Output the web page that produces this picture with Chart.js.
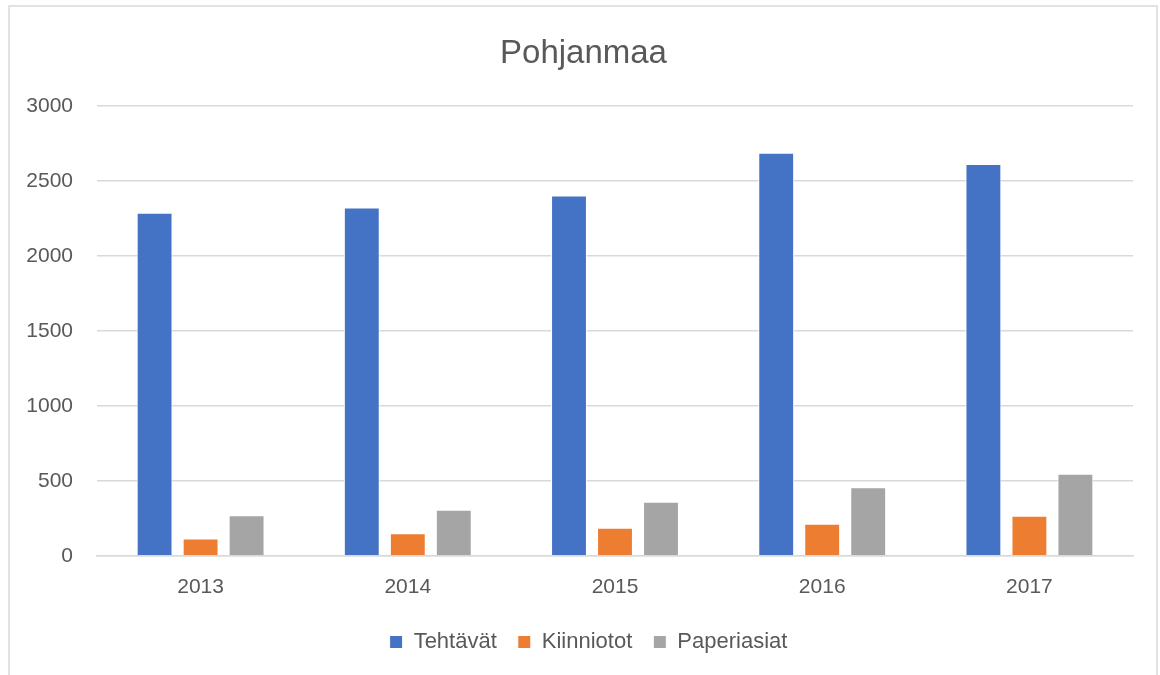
<!DOCTYPE html>
<html>
<head>
<meta charset="utf-8">
<script src="https://cdn.jsdelivr.net/npm/chart.js@4"></script>
<style>
  html, body { margin: 0; padding: 0; background: #fff; }
  #wrap { position: relative; width: 1160px; height: 675px; }
</style>
</head>
<body>
<div id="wrap"><canvas id="myChart" width="1160" height="675"></canvas></div>
<script>
// values
const years = ["2013", "2014", "2015", "2016", "2017"];
const tehtavat = [2289, 2324, 2404, 2689, 2613];
const kiinniotot = [116, 151, 187, 213, 267];
const paperiasiat = [271, 307, 360, 458, 547];
const yTicks = [0, 500, 1000, 1500, 2000, 2500, 3000];

const textColor = "#595959";
const gridColor = "#d9d9d9";
const fontName = "'Liberation Sans', Arial, sans-serif";

// light frame round the whole chart, like the Excel chart area
const framePlugin = {
    id: "frame",
    beforeDraw(chart) {
        const ctx = chart.ctx;
        ctx.save();
        ctx.fillStyle = "#fff";
        ctx.fillRect(0, 0, chart.width, chart.height);
        ctx.strokeStyle = gridColor;
        ctx.lineWidth = 1.5;
        ctx.strokeRect(9, 6, 1148, 700);
        ctx.restore();
    },
    // pull the legend a bit closer to the axis labels, centre title and legend on the frame
    afterLayout(chart) {
        if (chart.legend) {
            chart.legend.top -= 9;
            chart.legend.bottom -= 9;
            chart.legend.left += 12;
            chart.legend.right += 12;
        }
        if (chart.titleBlock) {
            chart.titleBlock.left += 7;
            chart.titleBlock.right += 7;
        }
    }
};

function makeSet(label, data, color)
{
    return {
        label: label,
        data: data,
        backgroundColor: color,
        borderColor: "#ffffff",
        borderWidth: 1,
        categoryPercentage: 0.666,
        barPercentage: 0.78
    };
}

new Chart("myChart", {
    type: "bar",
    data: {
        labels: years,
        datasets: [
            makeSet("Tehtävät", tehtavat, "#4472C4"),
            makeSet("Kiinniotot", kiinniotot, "#ED7D31"),
            makeSet("Paperiasiat", paperiasiat, "#A5A5A5")
        ]
    },
    options: {
        responsive: false,
        animation: false,
        devicePixelRatio: 1,
        layout: { padding: { left: 20, right: 27, top: 0, bottom: 3 } },
        plugins: {
            tooltip: { enabled: false },
            title: {
                display: true,
                text: "Pohjanmaa",
                color: textColor,
                font: { family: fontName, size: 33, weight: "normal" },
                padding: { top: 34, bottom: 32.5 }
            },
            legend: {
                position: "bottom",
                labels: {
                    color: textColor,
                    font: { family: fontName, size: 22 },
                    boxWidth: 13,
                    boxHeight: 13,
                    padding: 21
                }
            }
        },
        scales: {
            x: {
                grid: { display: false, drawTicks: false },
                border: { display: true, color: gridColor, width: 1.5 },
                ticks: {
                    color: textColor,
                    font: { family: fontName, size: 21 },
                    padding: 19
                }
            },
            y: {
                min: 0,
                max: 3000,
                afterBuildTicks(scale) {
                    scale.ticks = yTicks.map(v => ({ value: v }));
                },
                afterFit(scale) {
                    scale.width = 77;
                },
                grid: { color: gridColor, lineWidth: 1.5, drawTicks: false },
                border: { display: false },
                ticks: {
                    color: textColor,
                    font: { family: fontName, size: 21 },
                    padding: 24,
                    callback: v => String(v)
                }
            }
        }
    },
    plugins: [framePlugin]
});
</script>
</body>
</html>
